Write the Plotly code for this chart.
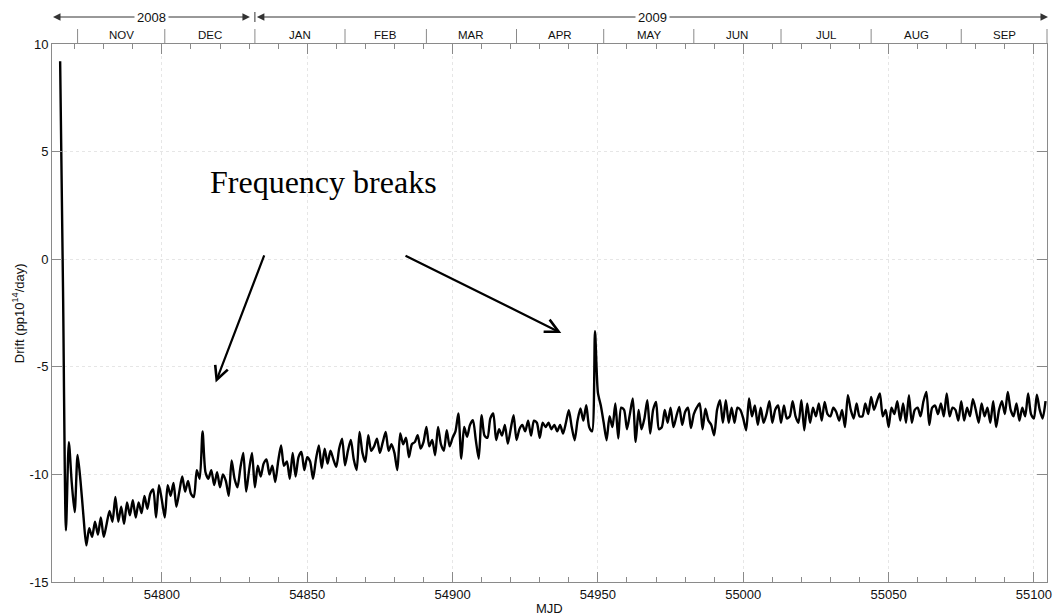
import plotly.graph_objects as go

# ---------------- data ----------------
MJD_START = 54765  # first sample, one sample per day
drift = [
    9.2, -1.5, -12.6, -8.5, -10.4, -11.75, -9.1, -10.3, -11.9, -13.3,        # 54765
    -12.5, -12.9, -12.2, -12.8, -12.0, -12.9, -12.3, -11.7, -12.2, -11.05,   # 54775
    -12.2, -11.5, -12.3, -11.3, -11.9, -11.2, -12.0, -11.3, -11.8, -11.0,    # 54785
    -11.6, -10.9, -10.7, -12.0, -10.5, -11.2, -12.0, -10.5, -11.0, -10.4,    # 54795
    -11.5, -10.8, -10.1, -10.8, -10.3, -10.9, -11.05, -9.8, -10.2, -8.0,     # 54805
    -9.9, -10.2, -9.8, -10.5, -9.9, -10.6, -10.0, -10.3, -11.0, -9.35,       # 54815
    -10.2, -10.6, -9.7, -9.0, -10.8, -9.8, -9.0, -10.6, -9.6, -10.1,         # 54825
    -9.5, -9.3, -10.0, -9.6, -10.35, -9.4, -8.65, -9.6, -9.4, -10.2,         # 54835
    -9.0, -10.1, -9.2, -8.96, -9.8, -9.2, -9.4, -10.2, -9.3, -8.65,          # 54845
    -9.7, -8.8, -9.5, -8.9, -9.3, -9.65, -8.8, -8.34, -9.58, -8.9,           # 54855
    -8.4, -9.3, -9.8, -8.03, -9.0, -9.42, -8.18, -8.9, -8.7, -8.34,          # 54865
    -9.0, -8.5, -8.03, -8.9, -8.6, -9.0, -9.8, -8.1, -8.6, -8.3,             # 54875
    -9.2, -8.6, -8.5, -8.18, -8.8, -8.5, -7.79, -8.7, -8.4, -9.11,           # 54885
    -7.79, -8.6, -8.9, -7.95, -8.7, -8.3, -8.0, -7.17, -9.27, -7.8,          # 54895
    -8.25, -7.7, -7.48, -8.4, -9.27, -7.25, -8.2, -8.3, -7.4, -7.17,         # 54905
    -8.4, -7.9, -8.2, -7.7, -8.57, -7.9, -7.25, -8.4, -7.9, -7.7,            # 54915
    -8.0, -7.5, -8.2, -7.5, -7.6, -8.3, -7.6, -7.8, -7.6, -7.9,              # 54925
    -7.7, -8.0, -7.7, -8.1, -7.6, -7.02, -7.8, -8.41, -7.5, -6.94,           # 54935
    -7.5, -6.78, -7.8, -8.0, -3.35, -6.2, -6.8, -7.6, -8.41, -7.3,           # 54945
    -7.8, -6.7, -8.33, -6.9, -7.0, -7.9, -7.2, -6.47, -8.49, -7.0,           # 54955
    -7.9, -7.4, -6.55, -8.1, -7.0, -6.63, -7.9, -7.8, -7.0, -7.6,            # 54965
    -6.9, -7.8, -7.3, -6.86, -7.7, -7.1, -6.9, -7.85, -7.2, -6.9,            # 54975
    -6.7, -7.9, -6.95, -7.5, -7.7, -8.18, -7.0, -6.55, -7.6, -6.55,          # 54985
    -7.6, -6.9, -7.6, -6.9, -7.0, -7.4, -7.95, -6.47, -7.3, -6.8,            # 54995
    -7.7, -6.9, -7.6, -7.2, -6.6, -7.6, -7.0, -6.8, -7.6, -6.8,              # 55005
    -7.4, -7.3, -6.6, -7.3, -7.6, -6.55, -7.95, -6.7, -7.6, -6.9,            # 55015
    -7.3, -6.7, -7.5, -6.63, -7.2, -7.3, -6.9, -7.1, -7.5, -7.0,             # 55025
    -7.8, -6.32, -7.0, -7.4, -6.7, -7.3, -7.3, -6.7, -7.2, -6.4,             # 55035
    -7.0, -6.6, -6.24, -7.3, -7.0, -7.8, -6.9, -7.2, -6.6, -7.5,             # 55045
    -6.7, -7.6, -6.32, -7.6, -7.0, -6.9, -7.3, -6.6, -6.17, -7.7,            # 55055
    -6.9, -6.8, -7.2, -6.7, -7.3, -6.24, -7.3, -6.9, -7.0, -7.5,             # 55065
    -6.6, -7.5, -6.9, -7.3, -6.5, -7.0, -7.6, -6.7, -7.3, -6.9,              # 55075
    -7.6, -6.6, -7.8, -7.0, -6.6, -7.2, -6.17, -7.0, -7.3, -6.7,             # 55085
    -7.5, -6.9, -7.3, -6.24, -7.2, -7.4, -6.3, -7.0, -7.4, -6.6,             # 55095
]
mjd = [MJD_START + i for i in range(len(drift))]

month_labels = ['NOV', 'DEC', 'JAN', 'FEB', 'MAR', 'APR', 'MAY', 'JUN', 'JUL', 'AUG', 'SEP']
month_starts = [54771, 54801, 54832, 54863, 54891, 54922, 54952, 54983, 55013, 55044, 55075, 55105]
year_labels = ['2008', '2009']
year_start_2009 = 54832

x_ticks = [54800, 54850, 54900, 54950, 55000, 55050, 55100]
x_tick_labels = ['54800', '54850', '54900', '54950', '55000', '55050', '55100']
y_ticks = [-15, -10, -5, 0, 5, 10]
y_tick_labels = ['-15', '-10', '-5', '0', '5', '10']

break_tips = [(54818.5, -5.73), (54937.4, -3.43)]
break_tails = [(54835.4, 0.25), (54883.3, 0.2)]
break_text = 'Frequency breaks'
break_text_pos = (54855.6, 3.6)

# ---------------- layout geometry ----------------
W, H = 1064, 616
ML, MR, MT, MB = 52, 13, 44, 34
X_RANGE = [54762.2, 55104.5]
Y_RANGE = [-15, 10]
PW = W - ML - MR
PH = H - MT - MB
AX = '#8a8a8a'
GRID = '#e6e6e6'
TXT = '#111111'
FONT = 'Liberation Sans, Arial, sans-serif'


def xp_mjd(m):
    return (m - X_RANGE[0]) / (X_RANGE[1] - X_RANGE[0])


def xp_px(px):
    return (px - ML) / PW


def yp_px(py):
    return (H - MB - py) / PH


fig = go.Figure()
fig.add_trace(go.Scatter(x=mjd, y=drift, mode='lines',
                         line=dict(color='black', width=2.4, shape='spline', smoothing=0.7),
                         showlegend=False, hoverinfo='skip'))

shapes = []
annotations = []

# month separators and labels (top band)
for m in month_starts:
    xm = min(xp_mjd(m), 1.0)
    shapes.append(dict(type='line', xref='paper', yref='paper',
                       x0=xm, x1=xm, y0=yp_px(43), y1=yp_px(29),
                       line=dict(color=AX, width=1)))
for i, lab in enumerate(month_labels):
    c = (month_starts[i] + month_starts[i + 1]) / 2
    annotations.append(dict(xref='paper', yref='paper', x=xp_mjd(c), y=yp_px(35.5),
                            text=lab, showarrow=False, xanchor='center', yanchor='middle',
                            font=dict(family=FONT, size=11.5, color=TXT)))

# year row with double arrows
y_year = yp_px(17)
x_left = xp_px(53)
x_mid = xp_mjd(year_start_2009)
x_right = xp_px(1052)
segments = [(x_left, x_mid - 5 / PW), (x_mid + 2 / PW, x_right)]
for (a, b), lab in zip(segments, year_labels):
    c = (a + b) / 2
    half = (b - a) * PW / 2
    for tip, off in ((a, half), (b, -half)):
        annotations.append(dict(xref='paper', yref='paper', x=tip, y=y_year,
                                ax=off, ay=0, text='', showarrow=True,
                                arrowhead=2, arrowsize=1.5, arrowwidth=1,
                                arrowcolor='#333'))
    annotations.append(dict(xref='paper', yref='paper', x=c, y=y_year, text=lab,
                            showarrow=False, xanchor='center', yanchor='middle',
                            bgcolor='white', borderpad=2,
                            font=dict(family=FONT, size=13, color=TXT)))
shapes.append(dict(type='line', xref='paper', yref='paper', x0=x_mid, x1=x_mid,
                   y0=yp_px(12), y1=yp_px(22), line=dict(color='#333', width=1)))

# frequency-break arrows and text
for (tx, ty), (sx, sy) in zip(break_tips, break_tails):
    annotations.append(dict(xref='x', yref='y', x=tx, y=ty, axref='x', ayref='y',
                            ax=sx, ay=sy, text='', showarrow=True, arrowhead=5,
                            arrowsize=1.2, arrowwidth=2.2, arrowcolor='black'))
annotations.append(dict(xref='x', yref='y', x=break_text_pos[0], y=break_text_pos[1],
                        text=break_text, showarrow=False, xanchor='center', yanchor='middle',
                        font=dict(family='Liberation Serif, Times New Roman, serif',
                                  size=32, color='black')))

# axis titles
annotations.append(dict(xref='paper', yref='paper', x=0.5, y=yp_px(608), text='MJD',
                        showarrow=False, xanchor='center', yanchor='middle',
                        font=dict(family=FONT, size=13, color=TXT)))
annotations.append(dict(xref='paper', yref='paper', x=xp_px(18), y=0.5,
                        text='Drift (pp10<sup>14</sup>/day)', textangle=-90,
                        showarrow=False, xanchor='center', yanchor='middle',
                        font=dict(family=FONT, size=13, color=TXT)))

fig.update_layout(
    width=W, height=H,
    margin=dict(l=ML, r=MR, t=MT, b=MB, pad=0),
    paper_bgcolor='white', plot_bgcolor='white',
    font=dict(family=FONT, size=13, color=TXT),
    shapes=shapes, annotations=annotations,
    xaxis=dict(range=X_RANGE, tickmode='array', tickvals=x_ticks, ticktext=x_tick_labels,
               ticks='inside', ticklen=10, tickwidth=1, tickcolor=AX,
               showline=True, linecolor=AX, linewidth=1, mirror='allticks',
               showgrid=True, gridcolor=GRID, griddash='dot', gridwidth=1,
               zeroline=False, tickfont=dict(size=13, color=TXT),
               minor=dict(tick0=54770, dtick=10, ticks='inside', ticklen=5,
                          tickcolor=AX, showgrid=False)),
    yaxis=dict(range=Y_RANGE, tickmode='array', tickvals=y_ticks, ticktext=y_tick_labels,
               ticks='inside', ticklen=10, tickwidth=1, tickcolor=AX,
               showline=True, linecolor=AX, linewidth=1, mirror='allticks',
               showgrid=True, gridcolor=GRID, griddash='dot', gridwidth=1,
               zeroline=False, tickfont=dict(size=13, color=TXT)),
)

fig.write_html('out.html')
